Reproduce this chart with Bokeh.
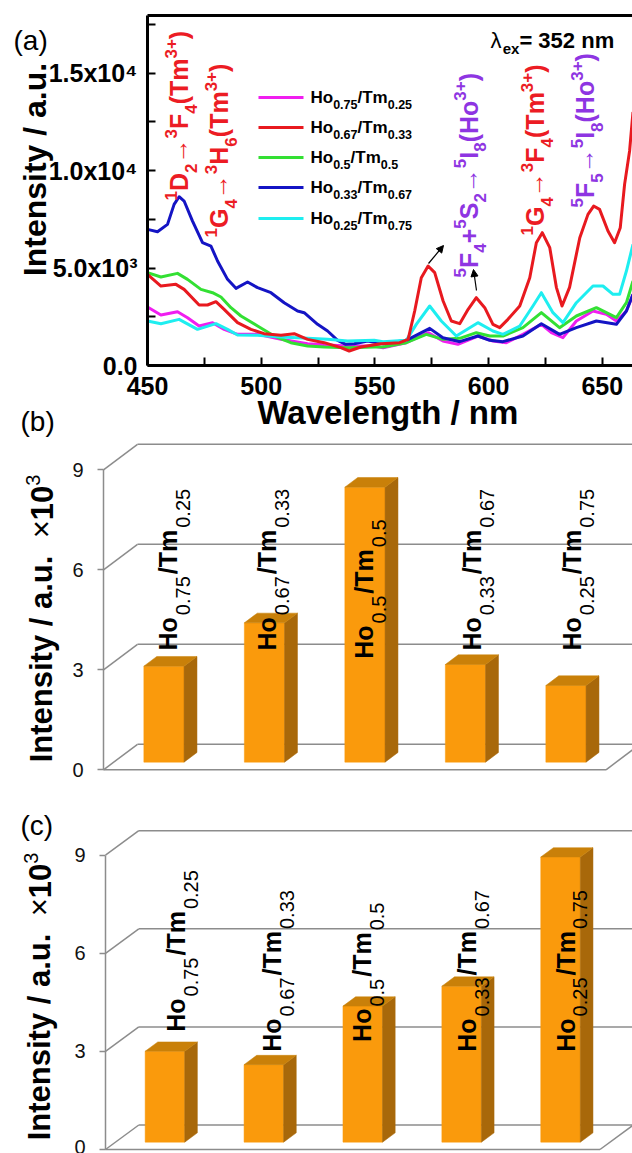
import math
from bokeh.plotting import figure
from bokeh.layouts import column
from bokeh.models import ColumnDataSource, FixedTicker, Arrow, NormalHead, Range1d
from bokeh.core.properties import value
from bokeh.embed import file_html
from bokeh.resources import INLINE

FONT = "Liberation Sans"
PAGE_W = 632

# ---------------- data: panel (a) emission spectra (lambda_ex = 352 nm) ----------------
wl_ho75 = [450, 455.9, 463.2, 467.6, 472.7, 478.6, 483.7, 489.6, 498.4, 508.7, 520.4, 529.2,
           538.0, 549.7, 553.6, 563.8, 573.4, 579.9, 586.5, 595.3, 601.9, 607.8, 615.1, 623.2,
           627.6, 632.7, 638.6, 645.9, 651.8, 656.2, 660.6, 663.5]
int_ho75 = [2999, 2589, 2760, 2453, 2025, 2196, 1854, 1598, 1598, 1341, 1119, 1051,
            1000, 1000, 914, 1170, 1683, 1256, 1085, 1512, 1256, 1170, 1598, 2111,
            1683, 1427, 2282, 2794, 2623, 2282, 2794, 3649]

wl_ho67 = [450, 455.9, 462.5, 466.1, 472.7, 476.4, 480.1, 483.7, 489.6, 495.5, 501.3, 508.7,
           514.5, 520.4, 527.7, 535.0, 538.7, 543.8, 552.6, 560.9, 564.6, 567.5, 570.4, 573.4,
           576.3, 580.0, 583.6, 587.3, 591.0, 594.6, 598.3, 601.9, 604.9, 608.5, 613.7, 618.1,
           621.0, 623.6, 626.9, 629.8, 632.3, 635.6, 640.1, 643.7, 646.2, 648.8, 652.5, 655.4,
           657.9, 659.8, 662.0, 663.5]
int_ho67 = [4674, 4076, 4161, 3905, 3102, 3102, 3273, 2880, 2196, 1854, 1632, 1546,
            1632, 1341, 1170, 914, 743, 948, 1119, 1170, 1341, 2794, 4503, 5101,
            4760, 3307, 2281, 2145, 2880, 3478, 2965, 2111, 1940, 2367, 3051, 4503,
            6298, 6811, 6042, 4008, 3051, 4008, 6554, 7750, 8177, 8006, 6896, 6298,
            7066, 9289, 11000, 13000]

wl_ho50 = [450, 455.9, 463.2, 467.6, 473.5, 478.6, 482.3, 486.7, 491.1, 498.4, 505.7, 513.0,
           520.4, 527.7, 538.0, 549.7, 553.6, 563.8, 572.6, 579.9, 587.3, 594.6, 600.5, 606.3,
           615.1, 623.2, 631.2, 638.6, 647.4, 656.2, 660.6, 663.5]
int_ho50 = [4760, 4537, 4726, 4418, 3905, 3734, 3512, 2965, 2538, 2025, 1512, 1170,
            1000, 948, 914, 948, 948, 1170, 1598, 1341, 1393, 1683, 1512, 1512,
            1940, 2709, 1940, 2538, 2965, 2452, 3221, 4332]

wl_ho33 = [450, 454.4, 458.8, 461.7, 463.9, 466.1, 469.8, 474.2, 477.9, 480.8, 485.2, 488.9,
           494.0, 498.4, 504.3, 510.1, 516.0, 518.9, 524.8, 529.2, 533.6, 537.2, 540.9, 546.8,
           553.6, 563.8, 574.1, 579.9, 587.3, 595.3, 600.5, 606.3, 615.1, 623.2, 631.2, 638.6,
           647.4, 656.2, 660.6, 663.5]
int_ho33 = [6980, 6862, 7237, 8263, 8656, 8434, 7408, 6298, 6127, 5358, 4418, 3957,
            4282, 3991, 3734, 3221, 2794, 2709, 2111, 1769, 1290, 1085, 1119, 1256,
            1119, 1290, 1905, 1427, 1222, 1512, 1290, 1222, 1512, 2145, 1598, 1940,
            2282, 2111, 2794, 3649]

wl_ho25 = [450, 455.9, 463.9, 472.0, 480.1, 485.2, 489.6, 498.4, 508.7, 520.4, 529.2, 538.0,
           549.7, 553.6, 563.8, 568.2, 574.1, 579.2, 585.8, 595.3, 601.9, 606.3, 613.7, 619.5,
           623.2, 628.3, 632.7, 638.6, 645.9, 650.3, 654.7, 657.6, 660.6, 663.5]
int_ho25 = [2282, 2145, 2367, 1854, 2145, 1854, 1563, 1546, 1461, 1393, 1341, 1256,
            1290, 1222, 1290, 2111, 3051, 2281, 1512, 2196, 1769, 1598, 2025, 3051,
            3734, 2709, 2196, 3221, 4076, 4076, 3649, 3649, 4845, 6212]

ho_fraction = ["0.75", "0.67", "0.5", "0.33", "0.25"]
tm_fraction = ["0.25", "0.33", "0.5", "0.67", "0.75"]
series_colors = ["#F01EF0", "#E8191F", "#33E033", "#1414C4", "#1EEEF0"]

wl_ticks = [450, 500, 550, 600, 650]
wl_minor = [475, 525, 575, 625]
int_ticks = [0, 5000, 10000, 15000]
int_minor = [2500, 7500, 12500, 17500]
int_tick_labels = ["0.0", "5.0x10\u00b3", "1.0x10\u2074", "1.5x10\u2074"]
wl_min, wl_max = 450, 663.3
int_max = 17950

# ---------------- data: panels (b) and (c), integrated intensity (x10^3) ----------------
intensity_b = [2.88, 4.18, 8.25, 2.93, 2.30]
intensity_c = [2.78, 2.37, 4.16, 4.77, 8.72]
bar_ticks = [0, 3, 6, 9]

# ---------------- styling ----------------
RED = "#EC1C24"
PURPLE = "#8E35E2"
GRID = "#8C8C8C"
BAR_FRONT = "#FA9A0C"
BAR_SIDE = "#A8680A"
BAR_TOP = "#C98009"
BASELINE_FIX = 0.34   # empirical baseline correction (fraction of font size)

W_REG = {"H": .722, "o": .556, "T": .611, "m": .833, "/": .278, ".": .278, "(": .333,
         ")": .333, "+": .584, " ": .278, "D": .722, "F": .611, "G": .778, "I": .278,
         "S": .667, "e": .556, "x": .5, "n": .556, "=": .584, "\u2192": 1.0, "\u03bb": .556,
         "\u00d7": .584, "a": .556, "u": .556, "t": .278, "s": .5, "i": .222, "y": .5,
         "W": .944, "v": .5, "l": .222, "g": .556, "h": .556, "b": .556, "c": .5}
W_BOLD = dict(W_REG, o=.611, m=.889, x=.556, n=.611, a=.556, u=.611, t=.333, s=.556,
              i=.278, y=.556, v=.556, l=.278, g=.611, h=.611, b=.611, c=.556)


def text_width(s, size, bold):
    tab = W_BOLD if bold else W_REG
    return sum(tab.get(ch, .556) for ch in s) * size


def new_rows():
    return {k: [] for k in ("x", "y", "text", "xo", "yo", "size", "style", "color", "angle")}


def add_rich(rows, x, y, parts, color, vertical, main, script=0, sup=0, sub=0,
             main_bold=True, script_bold=True, gap=0.0, base=0.0, center=False):
    def spec(kind):
        if kind == "n":
            return main, main_bold, 0
        if kind == "r":
            return main, False, 0
        if kind == "sup":
            return script, script_bold, -sup
        return script, script_bold, sub

    total = 0.0
    for txt, kind in parts:
        size, bold, _ = spec(kind)
        total += text_width(txt, size, bold) + gap
    total -= gap
    adv = -total / 2 if center else 0.0
    for txt, kind in parts:
        size, bold, shift = spec(kind)
        perp = shift + base - BASELINE_FIX * size
        if vertical:
            xo, yo, ang = perp, -adv, math.pi / 2
        else:
            xo, yo, ang = adv, perp, 0.0
        rows["x"].append(x)
        rows["y"].append(y)
        rows["text"].append(txt)
        rows["xo"].append(xo)
        rows["yo"].append(yo)
        rows["size"].append(f"{size}px")
        rows["style"].append("bold" if bold else "normal")
        rows["color"].append(color)
        rows["angle"].append(ang)
        adv += text_width(txt, size, bold) + gap


def draw_rows(p, rows):
    p.text(x="x", y="y", text="text", x_offset="xo", y_offset="yo", angle="angle",
           text_font_size="size", text_font_style="style", text_color="color",
           text_font=value(FONT), text_align="left", text_baseline="alphabetic",
           source=ColumnDataSource(rows))


def composition_parts(h, t):
    return [("Ho", "n"), (h, "sub"), ("/Tm", "n"), (t, "sub")]


def base_figure(width, height, xr, yr):
    p = figure(width=width, height=height, min_border=0, min_border_left=0, min_border_right=0,
               min_border_top=0, min_border_bottom=0, x_range=Range1d(*xr), y_range=Range1d(*yr),
               output_backend="svg", toolbar_location=None)
    p.outline_line_color = None
    p.xgrid.visible = False
    p.ygrid.visible = False
    p.background_fill_color = "white"
    p.border_fill_color = "white"
    return p


# ======================= panel (a) =======================
PX_NM = 2.274      # pixels per nm
PX_I = 0.0195      # pixels per count


def nm_at(px):
    return 450 + (px - 147) / PX_NM


def i_at(py):
    return (365 - py) / PX_I


fa = base_figure(PAGE_W, 440, (nm_at(0), nm_at(PAGE_W)), (i_at(440), i_at(0)))

for ax in (fa.xaxis[0], fa.yaxis[0]):
    ax.axis_line_width = 3
    ax.axis_line_color = "black"
    ax.major_tick_in = 8
    ax.major_tick_out = 0
    ax.minor_tick_in = 8
    ax.minor_tick_out = 0
    ax.major_tick_line_width = 2
    ax.minor_tick_line_width = 2
    ax.major_label_text_font = FONT
    ax.major_label_text_font_style = "bold"
    ax.major_label_text_font_size = "25px"
    ax.major_label_text_color = "black"

fa.xaxis.ticker = FixedTicker(ticks=wl_ticks, minor_ticks=wl_minor)
fa.xaxis.fixed_location = 0
fa.xaxis.bounds = (wl_min, wl_max)
fa.xaxis.major_label_standoff = 11

fa.yaxis.ticker = FixedTicker(ticks=int_ticks, minor_ticks=int_minor)
fa.yaxis.major_label_overrides = dict(zip(int_ticks, int_tick_labels))
fa.yaxis.fixed_location = wl_min
fa.yaxis.bounds = (0, int_max)
fa.yaxis.major_label_standoff = 10

# top frame line
fa.segment(x0=[wl_min], y0=[int_max], x1=[wl_max + 5], y1=[int_max], line_color="black", line_width=3)

spectra = [(wl_ho75, int_ho75, 0), (wl_ho50, int_ho50, 2), (wl_ho33, int_ho33, 3),
           (wl_ho25, int_ho25, 4), (wl_ho67, int_ho67, 1)]
for wl, it, k in spectra:
    fa.line(wl, it, line_color=series_colors[k], line_width=3, line_join="round")

rows_a = new_rows()
# legend
legend_rows_py = [97, 127, 157, 187, 218]
fa.segment(x0=[nm_at(258)] * 5, y0=[i_at(v) for v in legend_rows_py],
           x1=[nm_at(303)] * 5, y1=[i_at(v) for v in legend_rows_py],
           line_color=series_colors, line_width=3)
for k in range(5):
    add_rich(rows_a, nm_at(310), i_at(legend_rows_py[k]), composition_parts(ho_fraction[k], tm_fraction[k]),
             "black", False, 17, 12.5, 0, 5, base=6)

# transition annotations
ARR = "\u2192"
annotations = [
    ((187, 200), RED, [("1", "sup"), ("D", "n"), ("2", "sub"), (ARR, "r"), ("3", "sup"), ("F", "n"),
                       ("4", "sub"), ("(Tm", "n"), ("3+", "sup"), (")", "n")]),
    ((227, 237), RED, [("1", "sup"), ("G", "n"), ("4", "sub"), (ARR, "r"), ("3", "sup"), ("H", "n"),
                       ("6", "sub"), ("(Tm", "n"), ("3+", "sup"), (")", "n")]),
    ((476.7, 277), PURPLE, [("5", "sup"), ("F", "n"), ("4", "sub"), ("+", "n"), ("5", "sup"), ("S", "n"),
                            ("2", "sub"), (ARR, "r"), ("5", "sup"), ("I", "n"), ("8", "sub"),
                            ("(Ho", "n"), ("3+", "sup"), (")", "n")]),
    ((543.3, 235), RED, [("1", "sup"), ("G", "n"), ("4", "sub"), (ARR, "r"), ("3", "sup"), ("F", "n"),
                         ("4", "sub"), ("(Tm", "n"), ("3+", "sup"), (")", "n")]),
    ((593.3, 207), PURPLE, [("5", "sup"), ("F", "n"), ("5", "sub"), (ARR, "r"), ("5", "sup"), ("I", "n"),
                            ("8", "sub"), ("(Ho", "n"), ("3+", "sup"), (")", "n")]),
]
for (px, py), col, parts in annotations:
    add_rich(rows_a, nm_at(px), i_at(py), parts, col, True, 25, 17, 11, 9)

# excitation wavelength
add_rich(rows_a, nm_at(490), i_at(47), [("\u03bb", "r"), ("ex", "sub"), ("= 352 nm", "n")],
         "black", False, 22, 15, 0, 6)

# axis titles and panel tags
add_rich(rows_a, nm_at(45), i_at(169), [("Intensity / a.u.", "n")], "black", True, 32, center=True)
add_rich(rows_a, nm_at(388), i_at(423), [("Wavelength / nm", "n")], "black", False, 33, center=True)
add_rich(rows_a, nm_at(13), i_at(50), [("(a)", "r")], "black", False, 28)
add_rich(rows_a, nm_at(20), i_at(431), [("(b)", "r")], "black", False, 28)
draw_rows(fa, rows_a)

for (sx0, sy0), (sx1, sy1) in [((428, 263), (443, 245)), ((476, 290), (473, 269))]:
    fa.add_layout(Arrow(end=NormalHead(size=7, fill_color="black", line_color="black", line_width=1),
                        x_start=nm_at(sx0), y_start=i_at(sy0), x_end=nm_at(sx1), y_end=i_at(sy1),
                        line_color="black", line_width=1.2))


# ======================= panels (b), (c) =======================
def bar_panel(vals, fig_top, fig_bottom, axis_px, zero_py, unit_px, slot_px, dx_px, dy_px,
              label_starts, label_dx, title_px, title_cy, tag=None, tag_pos=None):
    def u(px):
        return (px - axis_px) / slot_px

    def v(py):
        return (zero_py - py) / unit_px

    p = base_figure(PAGE_W, fig_bottom - fig_top, (u(0), u(PAGE_W)), (v(fig_bottom), v(fig_top)))
    p.xaxis.visible = False

    ax = p.yaxis[0]
    ax.ticker = FixedTicker(ticks=bar_ticks)
    ax.fixed_location = 0
    ax.bounds = (0, 9)
    ax.axis_line_color = GRID
    ax.axis_line_width = 1.5
    ax.major_tick_line_color = GRID
    ax.major_tick_line_width = 1.5
    ax.major_tick_in = 0
    ax.major_tick_out = 6
    ax.minor_tick_line_color = None
    ax.major_label_text_font = FONT
    ax.major_label_text_font_size = "20px"
    ax.major_label_text_color = "#111111"
    ax.major_label_standoff = 14

    n = len(vals)
    DX = dx_px / slot_px
    DY = dy_px / unit_px
    x0s, y0s, x1s, y1s = [], [], [], []
    for L in bar_ticks:
        x0s += [DX, 0]
        y0s += [L + DY, L]
        x1s += [n + DX + 1, DX]
        y1s += [L + DY, L + DY]
    x0s += [0, n]
    y0s += [0, 0]
    x1s += [n, n + DX]
    y1s += [0, DY]
    p.segment(x0=x0s, y0=y0s, x1=x1s, y1=y1s, line_color=GRID, line_width=1.5)

    f0, fd, hw = 0.30, 0.38, 0.2
    lefts, rights, bottoms, tops = [], [], [], []
    side_x, side_y, top_x, top_y = [], [], [], []
    for i, val in enumerate(vals):
        c = i + 0.5
        xl = c - hw + f0 * DX
        xr = c + hw + f0 * DX
        yb = f0 * DY
        yt = yb + val
        ddx, ddy = fd * DX, fd * DY
        lefts.append(xl); rights.append(xr); bottoms.append(yb); tops.append(yt)
        side_x.append([xr, xr + ddx, xr + ddx, xr])
        side_y.append([yb, yb + ddy, yt + ddy, yt])
        top_x.append([xl, xl + ddx, xr + ddx, xr])
        top_y.append([yt, yt + ddy, yt + ddy, yt])
    p.quad(left=lefts, right=rights, bottom=bottoms, top=tops, fill_color=BAR_FRONT,
           line_color=BAR_FRONT, line_width=0.5)
    p.patches(side_x, side_y, fill_color=BAR_SIDE, line_color=BAR_SIDE, line_width=0.5)
    p.patches(top_x, top_y, fill_color=BAR_TOP, line_color=BAR_TOP, line_width=0.5)

    rows = new_rows()
    for i in range(n):
        add_rich(rows, i + 0.5 + label_dx[i], label_starts[i],
                 composition_parts(ho_fraction[i], tm_fraction[i]),
                 "black", True, 25, 20, 0, 13, main_bold=True, script_bold=False, gap=2.0)
    add_rich(rows, u(title_px), v(title_cy),
             [("Intensity / a.u.  ", "n"), ("\u00d7", "r"), ("10", "n"), ("3", "sup")],
             "black", True, 31, 20, 13, 0, script_bold=False, center=True)
    if tag is not None:
        add_rich(rows, u(tag_pos[0]), v(tag_pos[1]), [(tag, "r")], "black", False, 28)
    draw_rows(p, rows)
    return p


fb = bar_panel(intensity_b, 440, 790, 103, 769.3, 33.33, 100.5, 34, 25.5,
               [3.58, 3.58, 3.33, 3.58, 3.58], [0.23, 0.21, 0.18, 0.25, 0.25], 52, 618)
fc = bar_panel(intensity_c, 790, 1153, 105, 1149, 32.7, 98.9, 33.3, 24.5,
               [3.60, 2.99, 3.29, 2.99, 2.99], [0.30, 0.27, 0.18, 0.245, 0.24], 50, 996,
               tag="(c)", tag_pos=(20, 835))

layout = column(fa, fb, fc, spacing=0)
open("out.html", "w").write(file_html(layout, INLINE))
